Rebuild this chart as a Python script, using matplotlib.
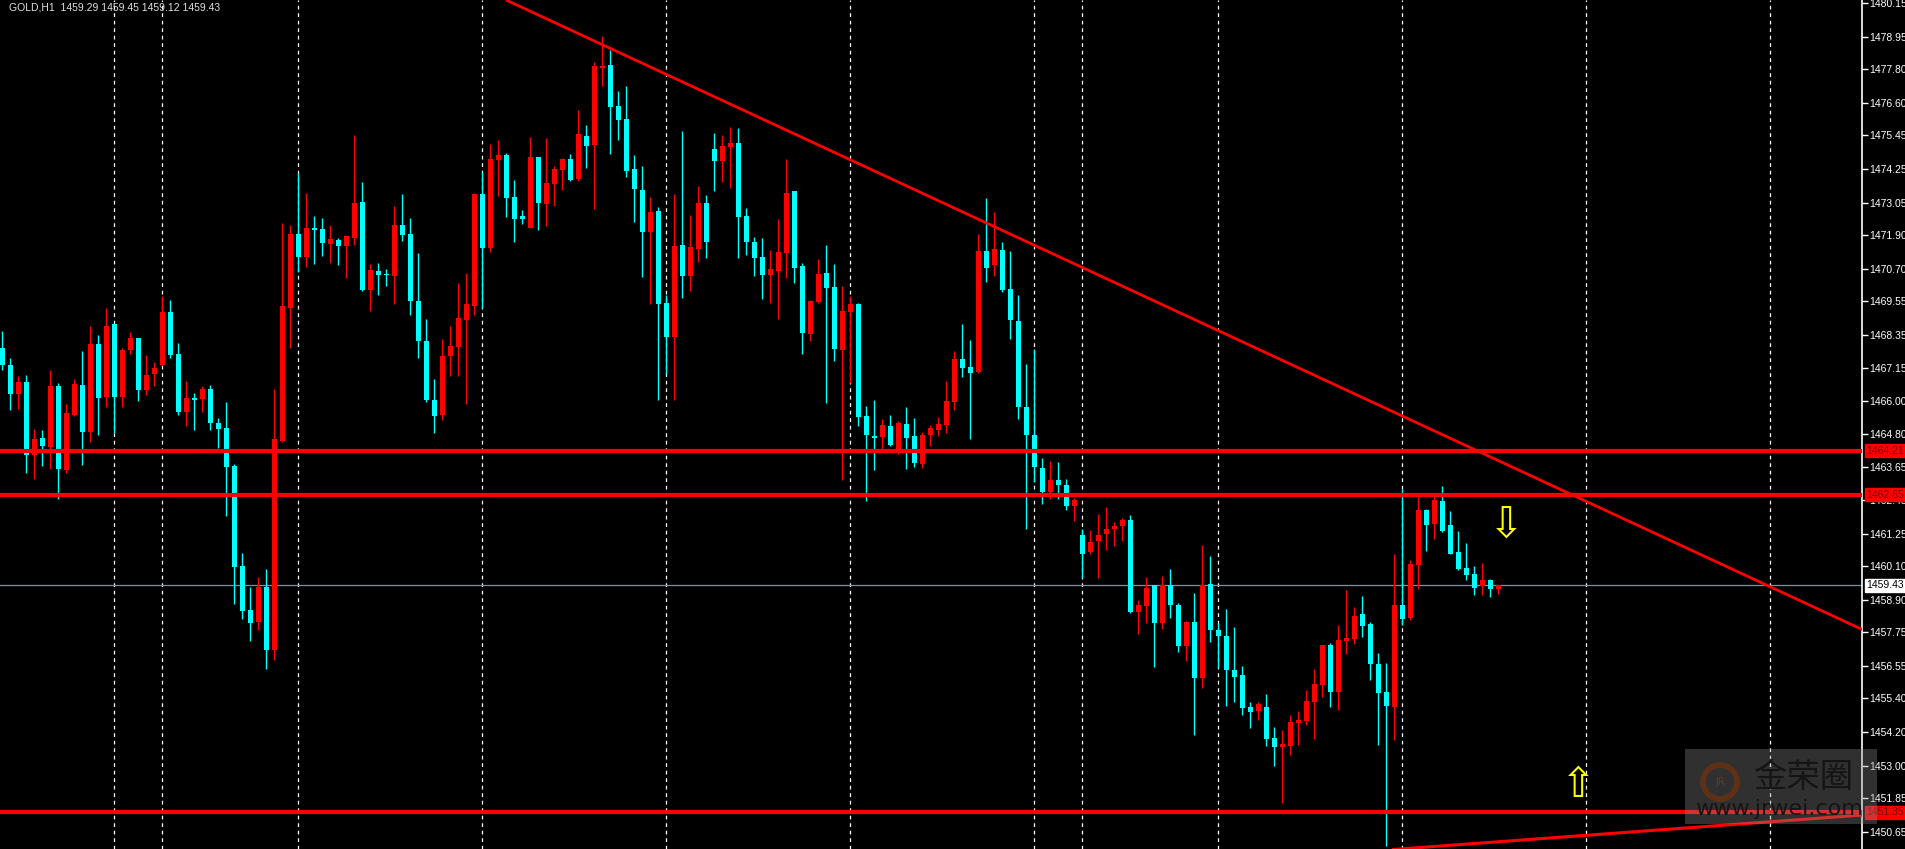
import matplotlib
matplotlib.use("Agg")
import matplotlib.pyplot as plt
from matplotlib.patches import Rectangle, Circle
from matplotlib.transforms import blended_transform_factory

opens = [1467.86,1467.27,1466.24,1466.67,1464.07,1464.67,1464.35,1466.52,1463.53,1465.49,
1466.56,1464.89,1468.02,1466.13,1468.73,1466.13,1467.80,1468.23,1466.38,1466.95,
1467.27,1469.16,1467.66,1465.60,1466.10,1466.06,1466.42,1465.21,1465.03,1463.67,
1460.12,1458.55,1458.12,1459.37,1457.13,1464.57,1469.30,1471.93,1471.11,1472.11,
1472.11,1471.57,1471.72,1471.50,1471.79,1473.07,1469.94,1470.61,1470.51,1470.44,
1472.25,1471.93,1469.55,1468.12,1466.02,1465.49,1467.59,1467.91,1468.87,1469.37,
1473.35,1471.43,1474.56,1474.74,1473.25,1472.57,1472.14,1474.67,1473.00,1473.71,
1474.21,1474.60,1473.89,1475.42,1475.10,1477.84,1477.94,1476.49,1476.02,1474.24,
1473.50,1472.00,1472.75,1469.47,1468.26,1471.54,1470.43,1471.40,1473.03,1474.95,
1474.53,1475.03,1475.17,1472.57,1471.64,1471.11,1470.47,1470.61,1471.25,1473.46,
1470.79,1468.37,1469.51,1470.54,1470.04,1467.80,1469.15,1469.44,1465.45,1464.74,
1464.71,1465.10,1464.24,1465.17,1464.74,1463.75,1464.78,1464.95,1465.13,1465.95,
1467.48,1467.19,1467.03,1471.32,1470.83,1471.36,1469.97,1468.83,1465.76,1464.78,
1463.59,1462.73,1463.18,1462.98,1462.24,1461.22,1460.61,1461.02,1461.26,1461.43,
1461.55,1461.75,1458.48,1458.69,1459.42,1458.07,1459.42,1458.73,1457.25,1458.11,
1456.11,1459.46,1457.83,1457.62,1456.40,1456.23,1455.09,1454.96,1455.09,1453.98,
1453.67,1453.71,1454.52,1454.60,1455.27,1455.87,1457.30,1455.63,1457.44,1457.51,
1458.40,1458.04,1456.62,1455.63,1455.09,1458.72,1458.26,1460.14,1462.09,1461.60,
1462.41,1461.56,1460.60,1460.03,1459.82,1459.39,1459.61,1459.29]

highs = [1468.48,1467.53,1466.88,1466.91,1464.99,1464.96,1467.09,1466.63,1465.88,1466.77,
1467.77,1468.66,1468.34,1469.30,1468.73,1467.87,1468.44,1468.23,1467.63,1467.38,
1469.73,1469.58,1468.05,1466.70,1466.27,1466.52,1466.56,1465.38,1465.95,1463.75,
1460.58,1459.37,1459.73,1460.01,1466.42,1472.32,1472.25,1474.10,1473.39,1472.57,
1472.50,1472.25,1471.79,1471.86,1475.45,1473.78,1470.86,1470.90,1470.68,1472.93,
1473.35,1472.50,1471.25,1468.91,1466.77,1468.19,1468.66,1470.19,1470.54,1473.39,
1474.14,1475.13,1475.28,1474.81,1473.85,1472.78,1475.38,1474.67,1475.35,1474.35,
1474.64,1474.78,1476.34,1475.81,1478.05,1478.98,1478.48,1477.02,1477.20,1474.74,
1474.35,1473.25,1472.89,1469.76,1473.35,1475.59,1472.61,1473.64,1473.32,1475.52,
1475.45,1475.75,1475.70,1472.85,1471.82,1471.79,1471.36,1472.46,1474.60,1473.46,
1470.90,1469.58,1471.04,1471.54,1470.86,1470.08,1469.72,1469.47,1465.81,1466.02,
1465.35,1465.49,1465.27,1465.77,1465.38,1464.88,1465.13,1465.42,1466.70,1467.77,
1468.73,1468.17,1471.93,1473.20,1472.71,1471.65,1471.32,1469.77,1467.31,1467.85,
1463.96,1463.84,1463.80,1463.22,1462.53,1461.43,1461.38,1461.96,1462.20,1461.67,
1461.83,1461.92,1458.89,1459.71,1459.42,1459.75,1459.99,1458.81,1458.15,1459.14,
1460.85,1460.48,1458.07,1458.60,1457.95,1456.56,1455.29,1455.29,1455.54,1454.39,
1454.28,1454.81,1454.95,1455.70,1456.44,1457.30,1457.37,1458.01,1459.25,1458.65,
1459.04,1458.11,1457.01,1456.66,1460.53,1462.84,1460.32,1462.59,1462.13,1462.59,
1462.95,1462.06,1461.35,1460.92,1460.10,1460.21,1459.64,1459.45]

lows = [1467.09,1465.65,1465.70,1463.44,1463.21,1463.68,1463.57,1462.50,1463.42,1465.46,
1463.71,1464.53,1464.78,1465.78,1464.84,1465.78,1467.66,1465.99,1466.20,1466.52,
1467.27,1467.53,1465.49,1465.10,1464.96,1465.60,1464.96,1464.32,1461.90,1458.77,
1458.23,1457.45,1457.84,1456.45,1456.77,1464.53,1467.87,1470.58,1470.76,1470.86,
1471.15,1470.90,1470.83,1470.36,1471.54,1469.90,1469.19,1469.76,1470.08,1469.44,
1471.68,1469.05,1467.52,1465.95,1464.85,1465.31,1466.88,1466.88,1465.88,1469.05,
1469.30,1471.29,1473.28,1472.54,1471.65,1472.29,1472.14,1472.07,1472.22,1472.93,
1473.50,1473.82,1473.82,1474.28,1472.82,1477.20,1474.78,1475.28,1473.96,1472.36,
1470.40,1469.44,1466.02,1466.95,1466.02,1469.65,1469.90,1470.93,1471.08,1473.46,
1473.78,1473.57,1471.08,1471.18,1470.43,1469.62,1469.47,1468.90,1470.36,1470.19,
1467.66,1468.12,1469.47,1465.91,1467.41,1463.18,1466.63,1465.10,1462.43,1463.53,
1464.24,1464.39,1464.10,1463.57,1463.64,1463.60,1464.38,1464.74,1464.85,1465.67,
1466.84,1464.62,1466.99,1470.22,1470.42,1469.85,1468.21,1465.35,1461.43,1463.10,
1462.32,1462.49,1462.49,1462.12,1461.71,1459.67,1460.53,1459.67,1460.69,1460.81,
1461.02,1458.44,1457.70,1458.07,1456.52,1457.87,1458.28,1457.05,1456.72,1454.11,
1455.78,1457.42,1456.48,1455.13,1455.29,1454.80,1454.35,1454.64,1453.70,1453.00,
1451.68,1453.39,1453.74,1454.45,1453.96,1455.45,1455.09,1454.99,1456.97,1457.33,
1457.58,1456.05,1453.74,1450.15,1453.92,1458.01,1458.18,1459.29,1460.64,1461.06,
1461.31,1460.53,1459.96,1459.61,1459.07,1459.07,1459.00,1459.12]

closes = [1467.27,1466.24,1466.67,1464.07,1464.64,1464.39,1466.52,1463.57,1465.56,1466.60,
1464.89,1468.02,1466.10,1468.66,1466.13,1467.80,1468.23,1466.38,1466.91,1467.16,
1469.16,1467.63,1465.60,1466.10,1466.03,1466.42,1465.21,1464.99,1463.64,1460.08,
1458.52,1458.09,1459.37,1457.13,1464.64,1469.37,1471.93,1471.11,1472.15,1472.08,
1471.61,1471.75,1471.50,1471.86,1473.03,1469.94,1470.65,1470.47,1470.47,1472.25,
1471.89,1469.55,1468.12,1466.02,1465.45,1467.59,1467.94,1468.94,1469.44,1473.35,
1471.43,1474.60,1474.74,1473.21,1472.46,1472.46,1474.67,1473.03,1473.75,1474.24,
1474.60,1473.85,1475.49,1475.06,1477.91,1477.91,1476.45,1475.99,1474.17,1473.53,
1472.00,1472.71,1469.44,1468.26,1471.50,1470.43,1471.47,1473.03,1471.64,1474.53,
1475.06,1475.17,1472.53,1471.64,1471.08,1470.47,1470.68,1471.29,1473.39,1470.72,
1468.41,1469.55,1470.51,1470.01,1467.84,1469.19,1469.44,1465.42,1464.78,1464.67,
1465.13,1464.42,1465.20,1464.67,1463.78,1464.78,1465.03,1465.17,1465.99,1467.48,
1467.16,1466.99,1471.32,1470.71,1471.40,1469.93,1468.87,1465.76,1464.78,1463.63,
1462.73,1463.18,1462.98,1462.24,1462.45,1460.53,1460.98,1461.22,1461.43,1461.55,
1461.75,1458.48,1458.73,1459.34,1458.07,1459.42,1458.73,1457.25,1458.11,1456.11,
1459.42,1457.83,1457.62,1456.40,1456.15,1455.05,1454.92,1455.21,1453.94,1453.66,
1453.78,1454.56,1454.63,1455.31,1455.91,1457.30,1455.63,1457.47,1457.54,1458.33,
1457.97,1456.62,1455.59,1455.13,1458.72,1458.22,1460.17,1462.09,1461.56,1462.45,
1461.35,1460.53,1459.99,1459.78,1459.32,1459.61,1459.29,1459.43]

h_levels = [1464.21, 1462.65, 1451.35]
bid = 1459.43
down_trend_x = [62.96, 232.5]
down_trend_y = [1480.26, 1457.85]
up_trend_x = [173.7, 232.5]
up_trend_y = [1450.02, 1451.25]
grid_bars = [14, 20, 37, 60, 83, 106, 129, 135, 152, 175, 198, 221]
yticks = [1480.15,1478.95,1477.80,1476.60,1475.45,1474.25,1473.05,1471.90,1470.70,1469.55,
          1468.35,1467.15,1466.00,1464.80,1463.65,1462.45,1461.25,1460.10,1458.90,1457.75,
          1456.55,1455.40,1454.20,1453.00,1451.85,1450.65]
arrow_down = (188.0, 1461.57)
arrow_up = (197.0, 1452.32)
title = "GOLD,H1  1459.29 1459.45 1459.12 1459.43"

UP = "#FF0000"
DN = "#00FFFF"
LAB_FONT = "Liberation Sans"

fig = plt.figure(figsize=(19.05, 8.49), dpi=100, facecolor="black")
ax = fig.add_axes([0, 0, 1862/1905, 1])
ax.set_facecolor("black")
ax.set_xlim(-0.29, 232.46)
ax.set_ylim(1450.04, 1480.26)

for g in grid_bars:
    ax.axvline(g, color="white", lw=0.9, ls=(0, (3, 3)), zorder=1)

for i, (o, h, l, c) in enumerate(zip(opens, highs, lows, closes)):
    col = UP if c >= o else DN
    ax.vlines(i, l, h, color=col, lw=1.0, zorder=3)
    bot = min(o, c)
    hgt = max(abs(c - o), 0.05)
    ax.bar(i, hgt, bottom=bot, width=0.625, color=col, edgecolor=col, lw=0, zorder=3)

ax.axhline(bid, color="#8090a0", lw=0.9, zorder=2)
for lv in h_levels:
    ax.axhline(lv, color="#FF0000", lw=3.0, zorder=4)
ax.plot(down_trend_x, down_trend_y, color="#FF0000", lw=2.0, zorder=4, solid_capstyle="butt")
ax.plot(up_trend_x, up_trend_y, color="#FF0000", lw=2.2, zorder=4, solid_capstyle="butt")

ax.text(arrow_down[0], arrow_down[1], "\u21e9", color="#FFFF00", fontsize=30,
        ha="center", va="center", family="DejaVu Sans", zorder=5)
ax.text(arrow_up[0], arrow_up[1], "\u21e7", color="#FFFF00", fontsize=30,
        ha="center", va="center", family="DejaVu Sans", zorder=5)

for s in ["left", "top", "bottom"]:
    ax.spines[s].set_visible(False)
ax.spines["right"].set_color("white")
ax.spines["right"].set_linewidth(1.2)
ax.set_xticks([])
ax.yaxis.tick_right()
ax.set_yticks(yticks)
ax.set_yticklabels([f"{v:.2f}" for v in yticks], family=LAB_FONT)
ax.tick_params(axis="y", colors="white", labelsize=7.5, length=4, width=1, pad=1.5)

trans = blended_transform_factory(ax.transAxes, ax.transData)
for lv in h_levels:
    ax.text(1.0025, lv, f"{lv:.2f}", transform=trans, fontsize=7.5, color="#7a0000",
            family=LAB_FONT, ha="left", va="center", zorder=6, clip_on=False,
            bbox=dict(boxstyle="square,pad=0.15", fc="#FF0000", ec="#FF0000"))
ax.text(1.0025, bid, f"{bid:.2f}", transform=trans, fontsize=7.5, color="black",
        family=LAB_FONT, ha="left", va="center", zorder=6, clip_on=False,
        bbox=dict(boxstyle="square,pad=0.15", fc="white", ec="white"))

def fp(x, y):
    return (x / 1905, 1 - y / 849)
x0, y0 = fp(1685, 824)
fig.patches.append(Rectangle((x0, y0), 192 / 1905, 75 / 849, transform=fig.transFigure,
                             fc="#8a8a8a", ec="none", alpha=0.35, zorder=10))
fig.patches.append(Circle((1720, 849 - 782), 17, transform=None, fc="none",
                          ec="#6a3010", lw=4, alpha=0.8, zorder=11))
fig.text(*fp(1720, 782), "JR", color="#6a3a20", fontsize=7, ha="center", va="center",
         alpha=0.9, zorder=12)
fig.text(*fp(1803, 778), "金荣圈", color="#151515", fontsize=24, ha="center", va="center",
         family=["Noto Sans CJK SC", "DejaVu Sans"], zorder=12)
fig.text(*fp(1779, 809), "www.jrwei.com", color="#151515", fontsize=16, ha="center",
         va="center", zorder=12)

fig.text(*fp(9, 8), title, color="#e0e0e0", fontsize=7.5, ha="left", va="center",
         family=LAB_FONT)

fig.savefig("out.png", dpi=100, facecolor="black")
